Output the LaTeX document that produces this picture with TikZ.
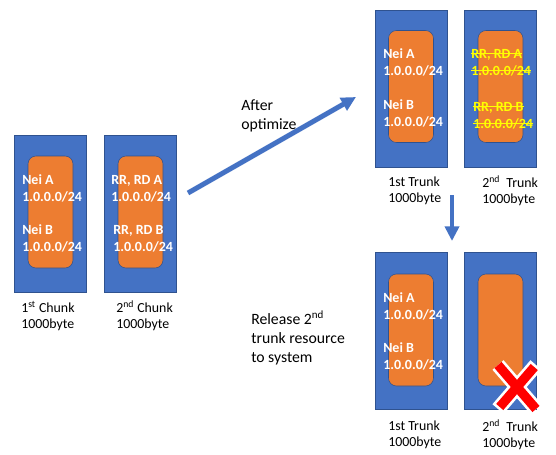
\documentclass[tikz,border=0pt]{standalone}
\usepackage{fontspec}
\setmainfont{Carlito}
\usepackage{xcolor}
\definecolor{blockblue}{HTML}{4472C4}
\definecolor{edgeblue}{HTML}{2F528F}
\definecolor{coreorange}{HTML}{ED7D31}
\definecolor{stalegold}{HTML}{FFFF00}
\definecolor{dropred}{HTML}{FF0000}
\usetikzlibrary{arrows.meta}
\newcommand{\staleline}[1]{\setbox0\hbox{#1}\rlap{\rule[0.3em]{\wd0}{0.7pt}}\box0}

\begin{document}
\begin{tikzpicture}[x=0.75pt, y=-0.75pt,
    chunkbox/.style={rectangle, fill=blockblue, draw=edgeblue, line width=0.4pt, minimum width=54pt, minimum height=117.75pt, inner sep=0pt},
    corebox/.style={rectangle, rounded corners=6pt, fill=coreorange, draw=edgeblue, line width=0.4pt, minimum width=33.75pt, minimum height=84pt, inner sep=0pt},
    entry/.style={anchor=west, inner sep=0pt, align=left, text=white, font=\fontsize{10.5}{12.8}\selectfont\bfseries},
    stale/.style={entry, text=stalegold},
    caption/.style={anchor=west, inner sep=0pt, align=left, text=black, font=\fontsize{10.4}{12}\selectfont},
    note/.style={anchor=west, inner sep=0pt, align=left, text=black, font=\fontsize{11.8}{14}\selectfont},
    flow/.style={-{Triangle[length=11pt, width=10.5pt]}, blockblue, line width=3.75pt},
  ]
    \useasboundingbox (0,0) rectangle (556,454);

    % before: two chunks
    \node[chunkbox] (chunkA) at (50.5,213.5) {};
    \node[corebox] (chunkAcore) at (50.5,212) {};
    \node[entry] (chunkAneiA) at (22,188.5) {Nei A\\1.0.0.0/24};
    \node[entry] (chunkAneiB) at (22,238) {Nei B\\1.0.0.0/24};
    \node[caption] (chunkAcap) at (21,316) {1\textsuperscript{st} Chunk\\1000byte};

    \node[chunkbox] (chunkB) at (140,213.5) {};
    \node[corebox] (chunkBcore) at (140.5,212) {};
    \node[entry] (chunkBrdA) at (111,188.5) {RR, RD A\\1.0.0.0/24};
    \node[entry] (chunkBrdB) at (113,238.5) {RR, RD B\\1.0.0.0/24};
    \node[caption] (chunkBcap) at (116,316) {2\textsuperscript{nd} Chunk\\1000byte};

    % after optimize
    \node[chunkbox] (trunkA) at (411,88.5) {};
    \node[corebox] (trunkAcore) at (411,86.5) {};
    \node[entry] (trunkAneiA) at (383,62.5) {Nei A\\1.0.0.0/24};
    \node[entry] (trunkAneiB) at (383,113) {Nei B\\1.0.0.0/24};
    \node[caption] (trunkAcap) at (388,190.5) {1st Trunk\\1000byte};

    \node[chunkbox] (trunkB) at (500.5,88.5) {};
    \node[corebox] (trunkBcore) at (500.5,86.5) {};
    \node[stale] (trunkBrdA) at (471,62.5) {\staleline{RR, RD A}\\\staleline{1.0.0.0/24}};
    \node[stale] (trunkBrdB) at (473,115.5) {\staleline{RR, RD B}\\\staleline{1.0.0.0/24}};
    \node[caption] (trunkBcap) at (482,190.5) {2\textsuperscript{nd}\ \ Trunk\\1000byte};

    % after release
    \node[chunkbox] (freeA) at (411,331) {};
    \node[corebox] (freeAcore) at (411,330) {};
    \node[entry] (freeAneiA) at (383,306) {Nei A\\1.0.0.0/24};
    \node[entry] (freeAneiB) at (383,356.5) {Nei B\\1.0.0.0/24};
    \node[caption] (freeAcap) at (388,434.5) {1st Trunk\\1000byte};

    \node[chunkbox] (freeB) at (500.5,331) {};
    \node[corebox] (freeBcore) at (500.5,330) {};
    \node[caption] (freeBcap) at (482,434.5) {2\textsuperscript{nd}\ \ Trunk\\1000byte};

    % red cross
    \draw[white, line width=11pt] (498,365) -- (536,409) (536,365) -- (498,409);
    \draw[dropred, line width=7pt, shorten <=2pt, shorten >=2pt] (498,365) -- (536,409) (536,365) -- (498,409);

    % arrows and notes
    \coordinate (optFrom) at (188,193);
    \coordinate (optTo) at (356,97);
    \draw[flow] (optFrom) -- (optTo);
    \node[note] (optNote) at (241,116) {After\\optimize};

    \coordinate (relFrom) at (452,195);
    \coordinate (relTo) at (452,241);
    \draw[flow, line width=3pt] (relFrom) -- (relTo);
    \node[note] (relNote) at (251,338) {Release 2\textsuperscript{nd}\\trunk resource\\to system};
  \end{tikzpicture}
\end{document}
